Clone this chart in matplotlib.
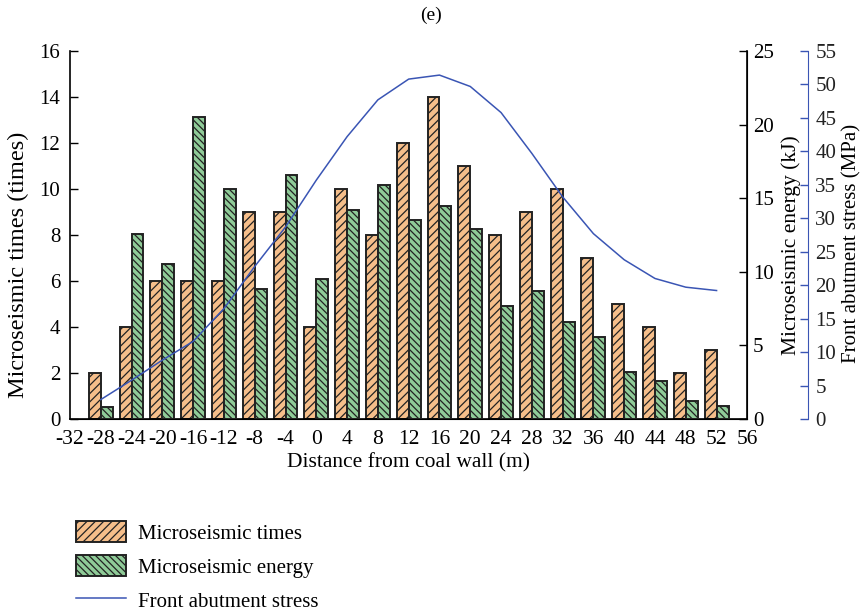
import numpy as np
import matplotlib
matplotlib.use("Agg")
import matplotlib.pyplot as plt

plt.rcParams['font.family'] = ['Liberation Serif', 'DejaVu Serif']
plt.rcParams['font.size'] = 15
plt.rcParams['hatch.linewidth'] = 0.9

# distance from coal wall (m), one group per 4 m
distance = [-28, -24, -20, -16, -12, -8, -4, 0, 4, 8, 12, 16, 20, 24, 28, 32, 36, 40, 44, 48, 52]
# microseismic times (times)
times = [2, 4, 6, 6, 6, 9, 9, 4, 10, 8, 12, 14, 11, 8, 9, 10, 7, 5, 4, 2, 3]
# microseismic energy (kJ)
energy = [0.8, 12.6, 10.5, 20.5, 15.6, 8.8, 16.6, 9.5, 14.2, 15.9, 13.5,
          14.5, 12.9, 7.7, 8.7, 6.6, 5.6, 3.2, 2.6, 1.2, 0.9]
# front abutment stress (MPa)
stress = [2.9, 5.8, 8.8, 11.6, 16.5, 22.8, 28.7, 35.7, 42.2, 47.7, 50.8,
          51.4, 49.7, 45.8, 39.7, 33.2, 27.7, 23.8, 21.0, 19.7, 19.2]

xticks = list(range(-32, 57, 4))

orange = '#F5BE8A'
green = '#8FCB98'
blue = '#3A55B4'
edge = '#222222'

fig = plt.figure(figsize=(8.64, 6.13), dpi=100)
ax = fig.add_axes([0.081, 0.3165, 0.784, 0.6003])
ax2 = ax.twinx()
ax3 = ax.twinx()

x = np.array(distance)
w = 1.55
b1 = ax.bar(x - w / 2, times, width=w, color=orange, edgecolor=edge,
            hatch='////', linewidth=1.4, label='Microseismic times')
b2 = ax2.bar(x + w / 2, energy, width=w, color=green, edgecolor=edge,
             hatch='\\\\\\\\\\', linewidth=1.4, label='Microseismic energy')
l1, = ax3.plot(x, stress, color=blue, linewidth=1.1, label='Front abutment stress')

ax.set_xlim(-32, 56)
ax.set_ylim(0, 16)
ax2.set_ylim(0, 25)
ax3.set_ylim(0, 55)

ax.set_xticks(xticks)
ax.set_xticklabels([str(t) for t in xticks])
ax.tick_params(axis='x', length=0, pad=8, labelsize=15.5)
ax.set_yticks(range(0, 17, 2))
ax.tick_params(axis='y', direction='in', length=6, width=1, pad=7)
ax2.set_yticks(range(0, 26, 5))
ax2.tick_params(axis='y', direction='in', length=6, width=1, pad=4)
ax3.set_yticks(range(0, 56, 5))
ax3.tick_params(axis='y', direction='in', length=6, width=1, colors=blue,
                labelcolor='#222222', pad=5)

for a in (ax, ax2, ax3):
    a.spines['top'].set_visible(False)
ax3.spines['right'].set_position(('axes', 1.09))
ax3.spines['right'].set_color(blue)
ax3.spines['left'].set_visible(False)
ax3.spines['bottom'].set_visible(False)
ax2.spines['left'].set_visible(False)
for s in ('left', 'bottom'):
    ax.spines[s].set_linewidth(1.2)
ax2.spines['right'].set_linewidth(1.2)

ax.set_xlabel('Distance from coal wall (m)', labelpad=3, fontsize=15.5)
ax.set_ylabel('Microseismic times (times)', fontsize=17.5)
ax.yaxis.set_label_coords(-0.060, 0.418)
ax2.set_ylabel('Microseismic energy (kJ)', fontsize=15.5)
ax2.yaxis.set_label_coords(1.050, 0.473)
ax3.set_ylabel('Front abutment stress (MPa)', fontsize=15)
ax3.yaxis.set_label_coords(1.140, 0.476)

fig.text(0.499, 0.975, '(e)', ha='center', va='center', fontsize=14)

fig.legend([b1, b2, l1],
           ['Microseismic times', 'Microseismic energy', 'Front abutment stress'],
           loc='upper left', bbox_to_anchor=(0.078, 0.163), frameon=False,
           handlelength=2.4, handleheight=1.15, labelspacing=0.55,
           handletextpad=0.6, borderaxespad=0)

fig.savefig('out.png', dpi=100)
